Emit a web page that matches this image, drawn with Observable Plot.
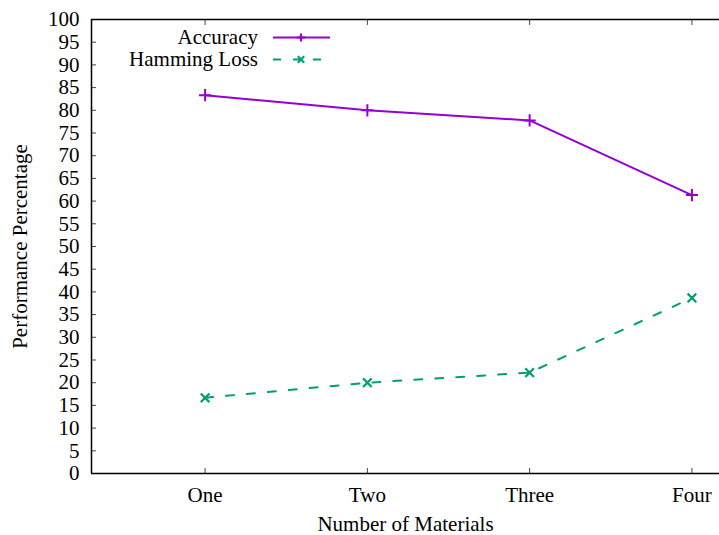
<!DOCTYPE html>
<html><head><meta charset="utf-8">
<script src="https://cdn.jsdelivr.net/npm/d3@7"></script>
<script src="https://cdn.jsdelivr.net/npm/@observablehq/plot@0.6"></script>
<style>body{margin:0;background:#fff} #chart{position:relative;width:719px;height:535px}</style>
</head><body><div id="chart"></div>
<script>
const categories = ["One", "Two", "Three", "Four"];
const categoryPositions = [1, 2, 3, 4];
const accuracy = [83.33, 80.0, 77.78, 61.33];
const hammingLoss = [16.67, 20.0, 22.22, 38.67];
const seriesNames = ["Accuracy", "Hamming Loss"];
const seriesColors = ["#9400D3", "#009E73"];
const yTicks = [0, 5, 10, 15, 20, 25, 30, 35, 40, 45, 50, 55, 60, 65, 70, 75, 80, 85, 90, 95, 100];
const xDomain = [0.3, 4.17];
const xLabel = "Number of Materials";
const yLabel = "Performance Percentage";

const accRows = categoryPositions.map((x, i) => ({x, y: accuracy[i]}));
const hamRows = categoryPositions.map((x, i) => ({x, y: hammingLoss[i]}));

const font = "'Liberation Serif', 'Times New Roman', serif";
const fs = 21;
const tickColor = "#444";

const plot = Plot.plot({
  width: 719, height: 535,
  marginTop: 19, marginBottom: 62, marginLeft: 91, marginRight: 0,
  style: {fontFamily: font, fontSize: fs + "px", color: "#000", background: "#fff"},
  x: {type: "linear", domain: xDomain},
  y: {domain: [yTicks[0], yTicks[yTicks.length - 1]]},
  marks: [
    Plot.axisY({ticks: yTicks, tickSize: 0, tickPadding: 12, label: null, fontSize: fs}),
    Plot.axisY({ticks: yTicks, tickSize: 5, dx: 5, tickFormat: () => "", label: null, stroke: tickColor}),
    Plot.axisX({ticks: categoryPositions, tickSize: 0, tickPadding: 14, tickFormat: d => categories[d - 1], label: null, fontSize: fs}),
    Plot.axisX({ticks: categoryPositions, tickSize: 5, dy: -5, tickFormat: () => "", label: null, stroke: tickColor}),
    Plot.axisX({anchor: "top", ticks: categoryPositions, tickSize: 5, dy: 5, tickFormat: () => "", label: null, stroke: tickColor}),
    Plot.ruleX([xDomain[0]], {stroke: "#000", strokeWidth: 1.5}),
    Plot.ruleY([yTicks[0], yTicks[yTicks.length - 1]], {stroke: "#000", strokeWidth: 1.5}),
    Plot.line(accRows, {x: "x", y: "y", stroke: seriesColors[0], strokeWidth: 2}),
    Plot.line(hamRows, {x: "x", y: "y", stroke: seriesColors[1], strokeWidth: 2, strokeDasharray: "8,13"}),
    Plot.dot(accRows, {x: "x", y: "y", symbol: "plus", r: 4, stroke: seriesColors[0], strokeWidth: 2}),
    Plot.dot(hamRows, {x: "x", y: "y", symbol: "times", r: 4, stroke: seriesColors[1], strokeWidth: 2.2}),
    Plot.text([xLabel], {frameAnchor: "bottom", dy: 51, lineAnchor: "middle", textAnchor: "middle", fontSize: fs, fill: "#000"}),
    Plot.text([yLabel], {frameAnchor: "left", dx: -71, rotate: -90, lineAnchor: "middle", textAnchor: "middle", fontSize: fs, fill: "#000"})
  ]
});

// legend
const svg = d3.select(plot);
const lg = svg.append("g").attr("font-family", font).attr("font-size", fs);
const legendRows = [
  {name: seriesNames[0], color: seriesColors[0], dash: null, sym: "plus", y: 37.5},
  {name: seriesNames[1], color: seriesColors[1], dash: "8,12", sym: "times", y: 59.5}
];
legendRows.forEach(r => {
  lg.append("text").attr("x", 258).attr("y", r.y).attr("dy", "0.32em").attr("text-anchor", "end").attr("fill", "#000").text(r.name);
  lg.append("line").attr("x1", 273).attr("x2", 330).attr("y1", r.y).attr("y2", r.y)
    .attr("stroke", r.color).attr("stroke-width", 2).attr("stroke-dasharray", r.dash);
  const s = 4;
  const p = r.sym === "plus"
    ? `M${301 - s},${r.y}H${301 + s}M301,${r.y - s}V${r.y + s}`
    : `M${301 - s * 0.8},${r.y - s * 0.8}L${301 + s * 0.8},${r.y + s * 0.8}M${301 - s * 0.8},${r.y + s * 0.8}L${301 + s * 0.8},${r.y - s * 0.8}`;
  lg.append("path").attr("d", p).attr("stroke", r.color).attr("stroke-width", 2.2).attr("fill", "none");
});

document.getElementById("chart").appendChild(plot);
</script>
</body></html>
